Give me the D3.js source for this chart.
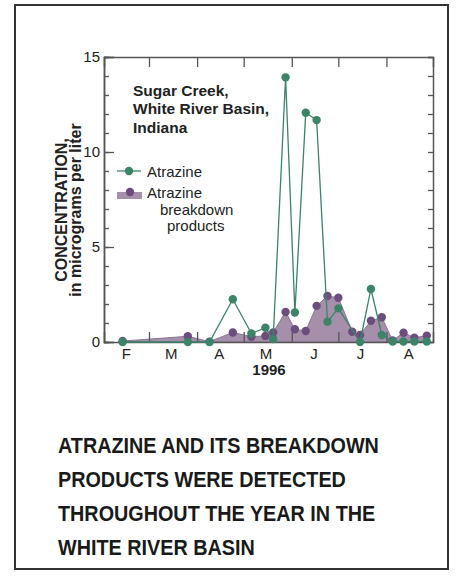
<!DOCTYPE html>
<html>
<head>
<meta charset="utf-8">
<script src="https://cdn.jsdelivr.net/npm/d3@7"></script>
<style>
  body { margin: 0; background: #fff; }
  svg { display: block; font-family: Arial, "Liberation Sans", Helvetica, sans-serif; }
</style>
</head>
<body>
<svg id="chart" width="463" height="579"></svg>
<script>
// sample dates and concentrations, micrograms per liter
var atrazineDates = ["1996-02-13","1996-03-26","1996-04-09","1996-04-24","1996-05-06","1996-05-15",
  "1996-05-20","1996-05-28","1996-06-03","1996-06-10","1996-06-17","1996-06-24","1996-07-01",
  "1996-07-15","1996-07-22","1996-07-29","1996-08-05","1996-08-12","1996-08-19","1996-08-27"];
var atrazine = [0.0, 0.0, 0.0, 2.25, 0.45, 0.75, 0.15, 13.93, 1.55, 12.07, 11.68, 1.07, 1.77,
  0.0, 2.79, 0.37, 0.03, 0.03, 0.03, 0.03];

var breakdownDates = ["1996-02-13","1996-03-26","1996-04-09","1996-04-24","1996-05-06","1996-05-15",
  "1996-05-20","1996-05-28","1996-06-03","1996-06-10","1996-06-17","1996-06-24","1996-07-01",
  "1996-07-10","1996-07-15","1996-07-22","1996-07-29","1996-08-05","1996-08-12","1996-08-19","1996-08-27"];
var breakdown = [0.05, 0.3, 0.02, 0.5, 0.28, 0.32, 0.5, 1.58, 0.67, 0.58, 1.9, 2.42, 2.33,
  0.54, 0.37, 1.12, 1.3, 0.08, 0.49, 0.23, 0.33];

var monthLabels = ["F", "M", "A", "M", "J", "J", "A"];
var yTicks = [0, 5, 10, 15];
var yearLabel = "1996";
var titleLines = ["Sugar Creek,", "White River Basin,", "Indiana"];
var captionLines = ["ATRAZINE AND ITS BREAKDOWN", "PRODUCTS WERE DETECTED",
  "THROUGHOUT THE YEAR IN THE", "WHITE RIVER BASIN"];

var green = "#3b8468", purpleDot = "#6b4e7b", purpleFill = "#a68fab", axisCol = "#555";

var parse = d3.timeParse("%Y-%m-%d");
var atz = atrazineDates.map(function(d, i) { return { date: parse(d), v: atrazine[i] }; });
var brk = breakdownDates.map(function(d, i) { return { date: parse(d), v: breakdown[i] }; });

var svg = d3.select("#chart");

// frame
svg.append("rect").attr("x", 15).attr("y", 5).attr("width", 433).attr("height", 564)
  .attr("fill", "none").attr("stroke", "#333").attr("stroke-width", 2);

var x = d3.scaleTime().domain([new Date(1996, 1, 1), new Date(1996, 7, 31)]).range([104, 433]);
var y = d3.scaleLinear().domain([0, 15]).range([342, 57]);

var monthStarts = d3.timeMonth.range(new Date(1996, 2, 1), new Date(1996, 7, 2));
var monthMids = d3.timeMonth.range(new Date(1996, 1, 1), new Date(1996, 7, 2)).map(function(d) {
  return new Date(d.getFullYear(), d.getMonth(), 15);
});

// area of breakdown products
var area = d3.area().x(function(d) { return x(d.date); }).y0(y(0)).y1(function(d) { return y(d.v); });
svg.append("path").datum(brk).attr("d", area)
  .attr("fill", purpleFill).attr("stroke", "#8d7394").attr("stroke-width", 1);

// axes
function styleAxis(g) {
  g.select(".domain").attr("stroke", axisCol).attr("stroke-width", 1.5);
  g.selectAll(".tick line").attr("stroke", axisCol).attr("stroke-width", 1.3);
  g.selectAll("text").attr("fill", "#222").style("font-size", "15px").attr("font-family", null);
}

svg.append("g").attr("transform", "translate(104,0)")
  .call(d3.axisLeft(y).tickValues(d3.range(0, 16)).tickSize(-5).tickFormat(""))
  .call(styleAxis);
svg.append("g").attr("transform", "translate(104,0)")
  .call(d3.axisLeft(y).tickValues(yTicks).tickSize(-10).tickPadding(4))
  .call(styleAxis);
svg.append("g").attr("transform", "translate(433,0)")
  .call(d3.axisRight(y).tickValues(d3.range(0, 16)).tickSize(-5).tickFormat(""))
  .call(styleAxis);
svg.append("g").attr("transform", "translate(0,57)")
  .call(d3.axisTop(x).tickValues(monthStarts).tickSize(-10).tickFormat(""))
  .call(styleAxis);
svg.append("g").attr("transform", "translate(0,342)")
  .call(d3.axisBottom(x).tickValues(monthStarts).tickSize(-10).tickFormat(""))
  .call(styleAxis);
svg.append("g").attr("transform", "translate(0,342)")
  .call(d3.axisBottom(x).tickValues(monthMids).tickSize(0).tickPadding(6)
    .tickFormat(function(d, i) { return monthLabels[i]; }))
  .call(styleAxis)
  .call(function(g) { g.select(".domain").remove(); });

svg.append("text").attr("x", 269).attr("y", 375).attr("text-anchor", "middle")
  .attr("font-weight", "bold").attr("font-size", 15).attr("fill", "#222").text(yearLabel);

// y axis title
var yt = svg.append("text").attr("transform", "translate(67,210) rotate(-90)")
  .attr("text-anchor", "middle").attr("font-weight", "bold").attr("font-size", 16).attr("fill", "#222");
yt.append("tspan").attr("x", 0).attr("y", 0).text("CONCENTRATION,");
yt.append("tspan").attr("x", 0).attr("y", 13.5).text("in micrograms per liter");

// atrazine line and points
var line = d3.line().x(function(d) { return x(d.date); }).y(function(d) { return y(d.v); });

svg.append("g").selectAll("circle").data(brk).join("circle")
  .attr("cx", function(d) { return x(d.date); }).attr("cy", function(d) { return y(d.v); })
  .attr("r", 4.2).attr("fill", purpleDot);

svg.append("path").datum(atz).attr("d", line)
  .attr("fill", "none").attr("stroke", green).attr("stroke-width", 1.3);
svg.append("g").selectAll("circle").data(atz).join("circle")
  .attr("cx", function(d) { return x(d.date); }).attr("cy", function(d) { return y(d.v); })
  .attr("r", 4.2).attr("fill", green);

// site title
svg.append("g").selectAll("text").data(titleLines).join("text")
  .attr("x", 133).attr("y", function(d, i) { return 96 + i * 18.3; })
  .attr("font-weight", "bold").attr("font-size", 15.5).attr("fill", "#222").text(function(d) { return d; });

// legend
var lg = svg.append("g");
lg.append("line").attr("x1", 117).attr("x2", 141).attr("y1", 171).attr("y2", 171)
  .attr("stroke", green).attr("stroke-width", 1.3);
lg.append("circle").attr("cx", 129).attr("cy", 171).attr("r", 4.2).attr("fill", green);
lg.append("text").attr("x", 147).attr("y", 177).attr("font-size", 15).attr("fill", "#222").text("Atrazine");
lg.append("rect").attr("x", 117).attr("y", 192).attr("width", 25).attr("height", 7).attr("fill", purpleFill);
lg.append("circle").attr("cx", 130).attr("cy", 192).attr("r", 4.2).attr("fill", purpleDot);
lg.append("text").attr("x", 147).attr("y", 198).attr("font-size", 15).attr("fill", "#222").text("Atrazine");
lg.append("text").attr("x", 160).attr("y", 215).attr("font-size", 15).attr("fill", "#222").text("breakdown");
lg.append("text").attr("x", 167).attr("y", 231).attr("font-size", 15).attr("fill", "#222").text("products");

// caption
svg.append("g").attr("transform", "translate(58,0) scale(0.9,1)")
  .selectAll("text").data(captionLines).join("text")
  .attr("x", 0).attr("y", function(d, i) { return 453 + i * 34; })
  .attr("font-weight", "bold").attr("font-size", 22).attr("fill", "#1a1a1a").text(function(d) { return d; });
</script>
</body>
</html>
